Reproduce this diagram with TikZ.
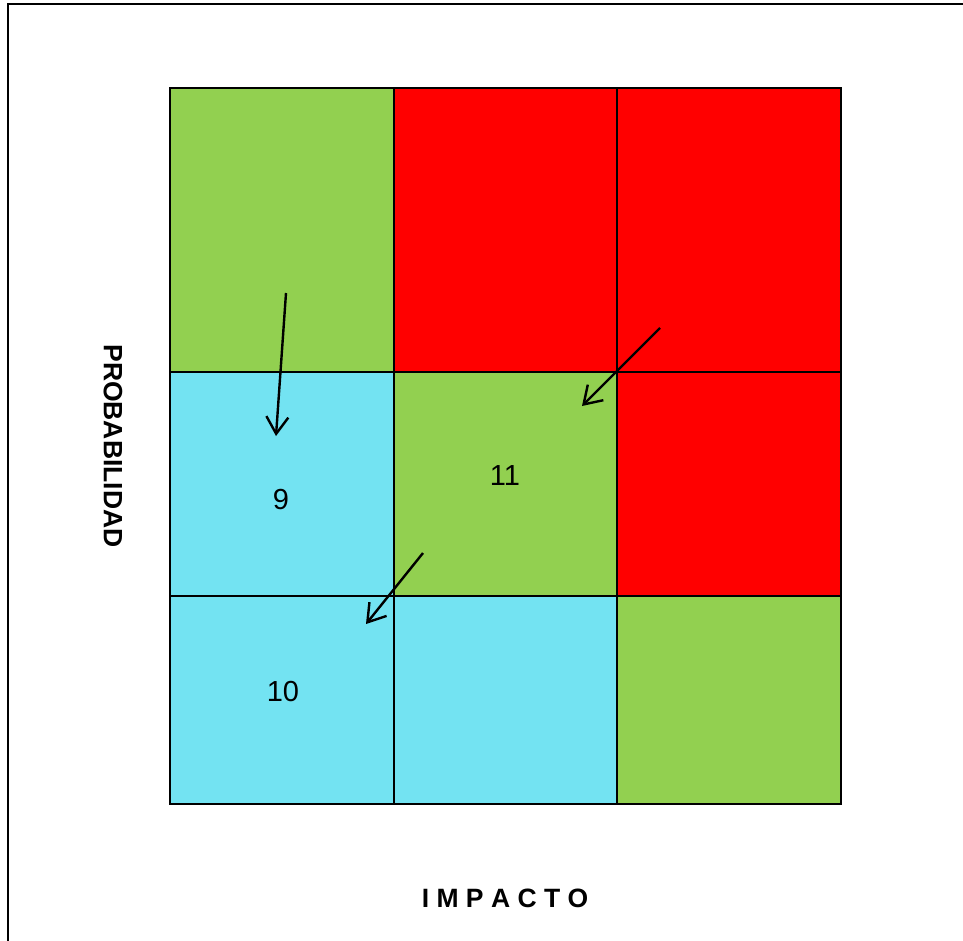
\documentclass[tikz,border=0pt]{standalone}
\usepackage{fontspec}
\setmainfont{Liberation Sans}
\usetikzlibrary{arrows.meta}
\definecolor{cgreen}{RGB}{146,208,80}
\definecolor{cred}{RGB}{255,0,0}
\definecolor{ccyan}{RGB}{115,227,242}
\begin{document}
\begin{tikzpicture}[x=1pt,y=-1pt,
  cell/.style={draw=black,line width=1.3pt},
  arr/.style={line width=2.4pt,-{Straight Barb[length=17pt,width=22pt,line width=2.4pt]}},
  num/.style={font=\fontsize{29}{32}\selectfont,inner sep=0pt},
  axis/.style={font=\bfseries\fontsize{26.5}{30}\selectfont,inner sep=0pt}]
\useasboundingbox (0,0) rectangle (963,940);
\draw[line width=1.4pt] (8,942) -- (8,4) -- (965,4);
% row 1
\filldraw[cell,fill=cgreen] (170,88) rectangle (394,372);
\filldraw[cell,fill=cred] (394,88) rectangle (617,372);
\filldraw[cell,fill=cred] (617,88) rectangle (841,372);
% row 2
\filldraw[cell,fill=ccyan] (170,372) rectangle (394,596);
\filldraw[cell,fill=cgreen] (394,372) rectangle (617,596);
\filldraw[cell,fill=cred] (617,372) rectangle (841,596);
% row 3
\filldraw[cell,fill=ccyan] (170,596) rectangle (394,804);
\filldraw[cell,fill=ccyan] (394,596) rectangle (617,804);
\filldraw[cell,fill=cgreen] (617,596) rectangle (841,804);
\draw[line width=2.2pt] (170,88) rectangle (841,804);
% labels
\node[num] (n9) at (281,500) {9};
\node[num] (n11) at (505,476) {11};
\node[num] (n10) at (283,692) {10};
\node[axis,rotate=-90] (prob) at (113,446) {PROBABILIDAD};
\node[axis] (imp) at (505,898) {I M P A C T O};
% arrows
\coordinate (a1s) at (286,293);
\coordinate (a1e) at (276,436);
\coordinate (a2s) at (660,328);
\coordinate (a2e) at (582,406);
\coordinate (a3s) at (423,553);
\coordinate (a3e) at (366,624);
\draw[arr] (a1s) -- (a1e);
\draw[arr] (a2s) -- (a2e);
\draw[arr] (a3s) -- (a3e);
\end{tikzpicture}
\end{document}
